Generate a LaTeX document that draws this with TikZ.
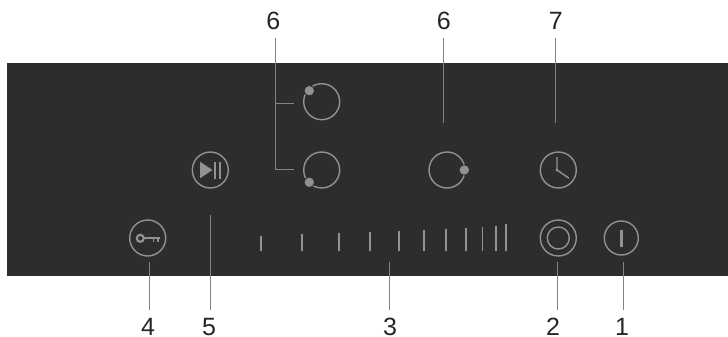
\documentclass[tikz,border=0pt]{standalone}
\usepackage{fontspec}
\setmainfont{Liberation Sans}
\definecolor{panelgray}{HTML}{2E2C2D}
\definecolor{icongray}{HTML}{929294}
\tikzset{
  ringbtn/.style={circle, draw=icongray, line width=1.4pt, minimum size=36pt, inner sep=0pt},
  zonedot/.style={circle, fill=icongray, draw=panelgray, line width=0.8pt, minimum size=10.5pt, inner sep=0pt},
  numlabel/.style={font=\fontsize{25}{25}\selectfont, text=black!85, inner sep=0pt},
  leader/.style={draw=icongray!90!black, line width=1pt, shorten <=8pt},
  iconline/.style={draw=icongray, line width=1.4pt},
}
\begin{document}
\begin{tikzpicture}[x=1pt, y=-1pt]
  \useasboundingbox (0,0) rectangle (728,337);
  \fill[panelgray] (7,63) rectangle (728,276);
  % buttons
  \node[ringbtn] (zoneA) at (321.7,101.7) {};
  \node[ringbtn] (zoneB) at (321.7,170) {};
  \node[ringbtn] (zoneC) at (447,170) {};
  \node[ringbtn] (clock) at (558.3,170) {};
  \node[ringbtn] (pause) at (210.3,170) {};
  \node[ringbtn] (lock) at (147.7,238) {};
  \node[ringbtn] (boost) at (558.3,238) {};
  \node[ringbtn, minimum size=34pt] (power) at (621.3,238) {};
  \node[zonedot] (dotA) at (309.3,90.7) {};
  \node[zonedot] (dotB) at (309.3,182.3) {};
  \node[zonedot] (dotC) at (464.3,170) {};
  \node[ringbtn, minimum size=22pt] (boostin) at (558.3,238) {};
  % icons
  \fill[icongray] (200,161.7) -- (212.5,170) -- (200,178.3) -- cycle;
  \fill[icongray] (213.8,161.5) rectangle (216.3,178.5);
  \fill[icongray] (218.8,161.5) rectangle (221.3,178.5);
  \draw[iconline, line width=2.2pt] (140.3,238.3) circle (3.5);
  \draw[iconline, line width=2pt] (144.5,238) -- (160,238);
  \draw[iconline, line width=1.7pt] (153.5,238) -- (153.5,242);
  \draw[iconline, line width=1.7pt] (157.8,238) -- (157.8,241.5);
  \draw[iconline] (557,157) -- (557,170) -- (569,178.3);
  \fill[icongray] (557,170) circle (1.6);
  \draw[iconline, line width=2.4pt] (621.3,230) -- (621.3,246.7);
  % slider ticks
  \foreach \x/\t in {260.7/235.7, 301.7/234.3, 338.7/233.3, 370/232.3, 398.7/231.3,
      423.7/230, 446/229, 466/228, 482.3/227, 495.7/226, 506/224}
    \draw[iconline, line width=1.6pt] (\x,250.7) -- (\x,\t);
  % numbers
  \node[numlabel] (labA) at (273.3,21) {6};
  \node[numlabel] (labC) at (443.7,21) {6};
  \node[numlabel] (labT) at (555.7,21) {7};
  \node[numlabel] (lab4) at (148,327) {4};
  \node[numlabel] (lab5) at (209,327) {5};
  \node[numlabel] (lab3) at (390,327) {3};
  \node[numlabel] (lab2) at (553,327) {2};
  \node[numlabel] (lab1) at (622,327) {1};
  \coordinate (endA) at (275.3,169);
  \coordinate (endB) at (293.7,169);
  \coordinate (endD) at (293.7,103.7);
  \coordinate (endC) at (443.7,123);
  \coordinate (endT) at (555.7,123);
  \coordinate (end4) at (149,262);
  \coordinate (end5) at (210.3,215);
  \coordinate (end3) at (389.7,261.7);
  \coordinate (end2) at (557,262);
  \coordinate (end1) at (623,262);
  % leaders
  \draw[leader] (labA.south -| endA) -- (endA) -- (endB);
  \draw[leader, shorten <=0pt] (endA |- endD) -- (endD);
  \foreach \n in {C,T}
    \draw[leader] (lab\n.south -| end\n) -- (end\n);
  \foreach \n in {4,5,3,2,1}
    \draw[leader] (lab\n.north -| end\n) -- (end\n);
\end{tikzpicture}
\end{document}
